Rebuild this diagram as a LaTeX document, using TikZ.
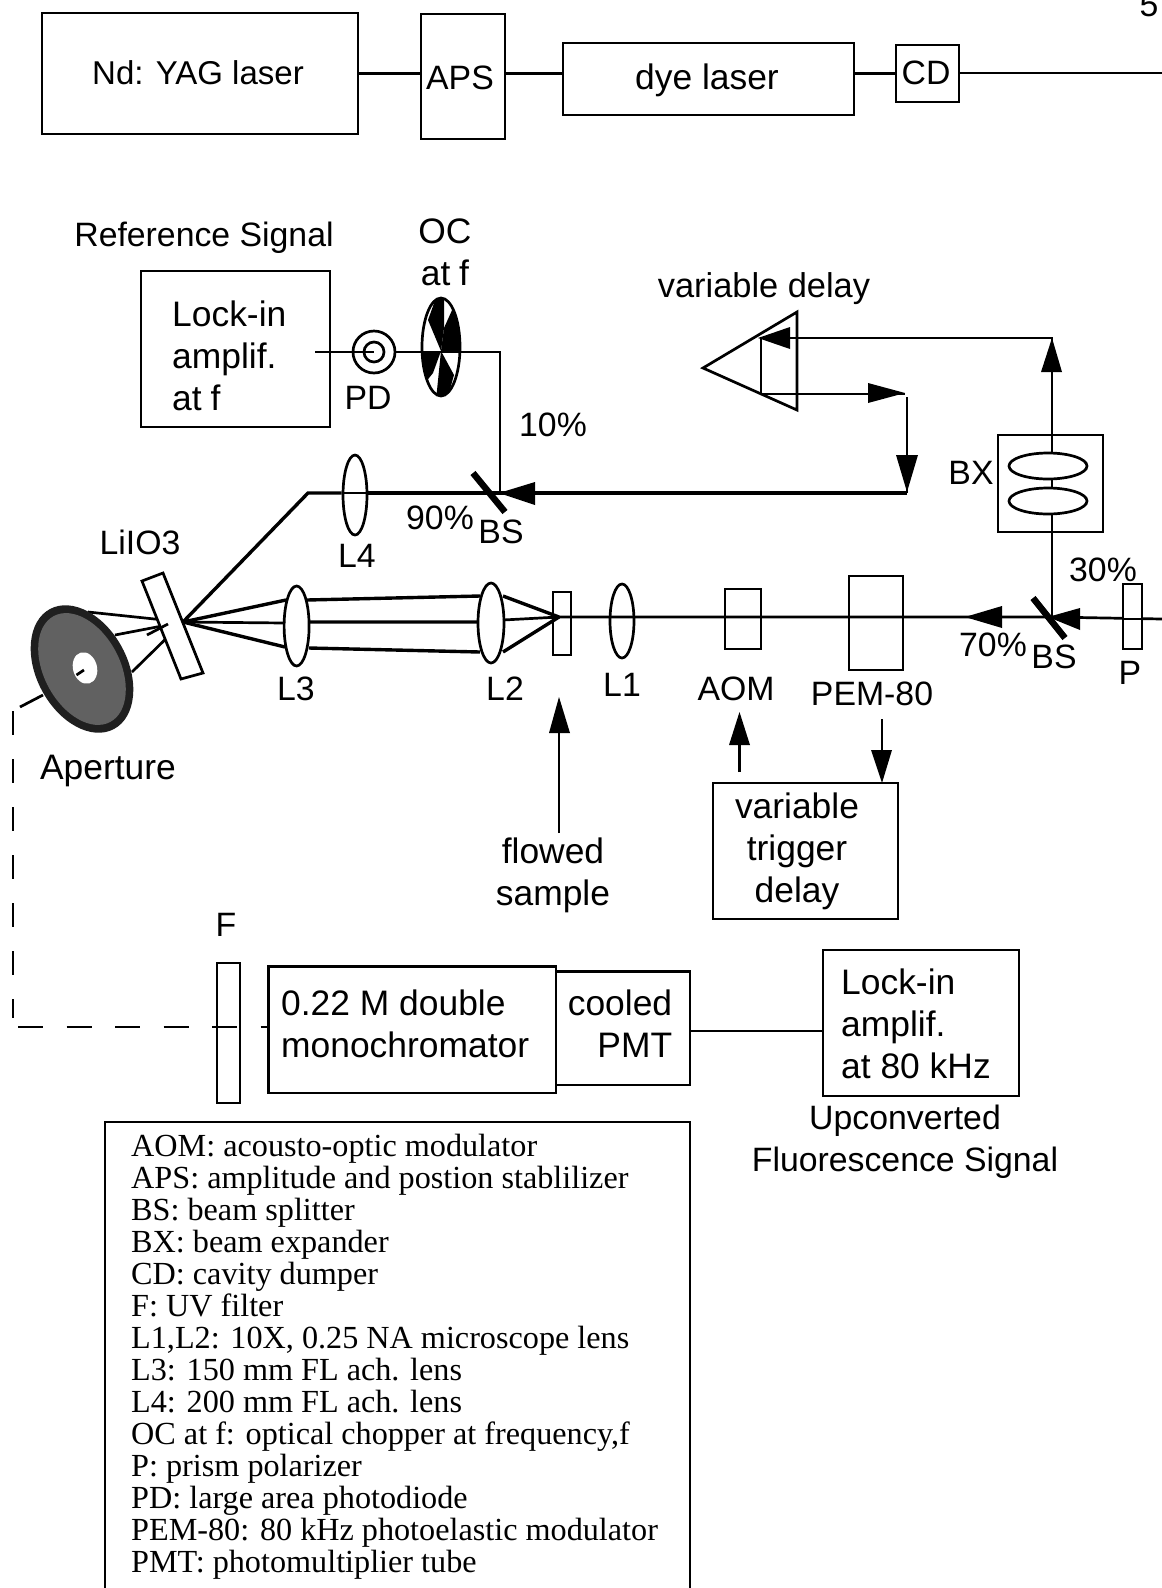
\documentclass[tikz,border=0pt]{standalone}
\usepackage{fontspec}
\setmainfont{Liberation Sans}
\newfontfamily\legfont{Liberation Serif}
\usetikzlibrary{shapes.geometric,arrows.meta,calc}
\newcommand{\mainf}{\fontsize{33.8}{42}\selectfont}
\newcommand{\bigf}{\fontsize{35.4}{42}\selectfont}
\newcommand{\legf}{\legfont\fontsize{32.2}{32}\selectfont}
\tikzset{
 x=1pt,y=-1pt,
 box/.style={draw,line width=2.7pt,inner sep=0pt,font=\mainf},
 txt/.style={inner sep=0pt,font=\mainf,text=black},
 txtb/.style={inner sep=0pt,font=\bigf,text=black},
 ln/.style={line width=2.7pt},
 thick beam/.style={line width=3.4pt},
 lens/.style={draw,ellipse,line width=2.7pt,fill=white,inner sep=0pt},
 legline/.style={anchor=base west,inner sep=0pt,font=\legf},
}
\begin{document}
\begin{tikzpicture}
\useasboundingbox (0,0) rectangle (1162,1588);
\fill[white] (0,0) rectangle (1162,1588);
\node[txt,anchor=base] (pageno) at (1149,16) {5};
% top chain
\node[box,font=\fontsize{33}{42}\selectfont,minimum width=316pt,minimum height=121pt] (yag) at (200,73.5) {};
\node[inner sep=0pt,font=\fontsize{33}{42}\selectfont] (yagt) at (198,73) {Nd: YAG laser};
\node[box,minimum width=84pt,minimum height=125pt] (aps) at (463,76.5) {};
\node[txt] (apst) at (460,78) {APS};
\node[box,minimum width=291pt,minimum height=72pt] (dye) at (708.5,79) {};
\node[txtb] (dyet) at (707,80) {dye laser};
\node[box,minimum width=63pt,minimum height=57pt] (cd) at (927.5,73.5) {};
\node[txt] (cdt) at (926,73) {CD};
\coordinate (topend) at (1162,73);
\draw[ln] (yag.east) -- (aps.west|-yag.east);
\draw[ln] (aps.east|-yag.east) -- (dye.west|-yag.east);
\draw[ln] (dye.east|-cd.west) -- (cd.west);
\draw[ln] (cd.east|-topend) -- (topend);
% reference arm
\node[txt] (refsig) at (204,238) {Reference Signal};
\node[box,minimum width=189pt,minimum height=156pt] (lockA) at (235.5,349) {};
\node[txtb,align=left,anchor=west] (lockAt) at (172,356) {Lock-in\\amplif.\\at\hspace{.25em}f};
\node[txtb,align=center] (octxt) at (445,252) {OC\\at\hspace{.25em}f};
\node[txt] (pdt) at (368,398) {PD};
\node[inner sep=0pt,font=\fontsize{34.4}{42}\selectfont] (vard) at (764,289) {variable delay};
\node[txt] (pct10) at (553,425) {10\%};
\node[txt] (pct90) at (440,518) {90\%};
\node[txt] (bs1t) at (501,532) {BS};
\node[txt] (l4t) at (357,556) {L4};
\node[txt] (liio) at (140,542) {LiIO3};
\coordinate (refa) at (315,352);
\coordinate (refc) at (500,352);
\coordinate (refd) at (500,493);
\coordinate (beamleft) at (308,493);
\coordinate (focus) at (183,622);
\coordinate (beamright) at (907,493);
\coordinate (downtop) at (907,397);
\coordinate (upb) at (1052,617);
\coordinate (upt) at (1052,338);
\coordinate (pr1) at (761,338);
\coordinate (pr2) at (761,394);
\coordinate (pr3) at (905,394);
\node[lens,minimum width=24pt,minimum height=80pt] (l4) at (355,495) {};
\draw[ln] (refa) -- (refc) -- (refd);
\node[draw,circle,line width=2.7pt,fill=white,minimum size=42pt,inner sep=0pt] (pd) at (374,352) {};
\node[draw,circle,line width=2.7pt,minimum size=20pt,inner sep=0pt] (pdi) at (374,352) {};
\coordinate (pdc) at (374,352);
\draw[ln] (refa) -- (pdc);
% chopper
\node[draw,ellipse,line width=2.7pt,fill=white,minimum width=38pt,minimum height=98pt,inner sep=0pt] (oc) at (441,347) {};
\begin{scope}
\clip (441,347) ellipse [x radius=19,y radius=49];
\fill (441,351) -- (428,320) -- (437,295) -- (444,295) -- (444,328) -- cycle;
\fill (444,328) -- (453,308) -- (468,333) -- (468,351) -- (441,351) -- cycle;
\fill (441,351) -- (418,351) -- (425,383) -- (433,373) -- cycle;
\fill (441,351) -- (454,375) -- (447,400) -- (436,400) -- cycle;
\end{scope}
\draw[ln] (oc.west|-refc) -- (refc);
% main 90% line
\draw[thick beam] (focus) -- (beamleft) -- (l4.west|-beamleft);
\draw[thick beam] (l4.east|-beamleft) -- (beamright);
\draw[ln] (l4.west|-beamleft) -- (l4.east|-beamleft);
\draw[line width=6.5pt] (473,473) -- (505,512);
\fill (499,493) -- (535,482) -- (535,505) -- cycle;
% variable delay
\draw[ln,line join=miter] (703,368) -- (797,312) -- (797,410) -- cycle;
\draw[ln] (upb) -- (upt) -- (pr1) -- (pr2) -- (pr3);
\fill (758,338) -- (790,327) -- (790,349) -- cycle;
\fill (905,393) -- (868,383) -- (868,403) -- cycle;
\fill (1052,338) -- (1041,372) -- (1062,372) -- cycle;
\draw[ln] (downtop) -- (beamright);
\fill (907,492) -- (896,455) -- (918,455) -- cycle;
% BX
\node[box,fill=white,minimum width=105pt,minimum height=97pt] (bx) at (1050.5,483.5) {};
\node[lens,minimum width=78pt,minimum height=26pt] (bxa) at (1048,466) {};
\node[lens,minimum width=78pt,minimum height=26pt] (bxb) at (1048,501) {};
\node[txt] (bxt) at (971,473) {BX};
\draw[ln] (upt|-bx.north) -- (upt|-bxa.north);
\draw[ln] (upt|-bxa.south) -- (upt|-bxb.north);
\draw[ln] (upt|-bxb.south) -- (upt|-bx.south);
\node[txt] (pct30) at (1103,570) {30\%};
\node[txt] (pct70) at (993,645) {70\%};
\node[txt] (bs2t) at (1054,657) {BS};
\node[txt] (pt) at (1130,673) {P};
% main axis
\coordinate (axisr) at (1162,619);
\coordinate (axisbs) at (1050,617);
\coordinate (axisl) at (559,617);
\draw[ln] (axisr) -- (axisbs) -- (axisl);
\node[box,fill=none,minimum width=36pt,minimum height=60pt] (aom) at (743,619) {};
\node[box,fill=none,minimum width=54pt,minimum height=94pt] (pem) at (876,623) {};
\node[box,fill=white,minimum width=19pt,minimum height=65pt] (pol) at (1132.5,616.5) {};
\draw[ln] (pol.west|-axisr) -- (pol.east|-axisr);
\node[lens,fill=none,minimum width=24pt,minimum height=74pt] (l1) at (622,621) {};
\node[box,fill=none,minimum width=18pt,minimum height=63pt] (samp) at (562,623.5) {};
\draw[line width=6.5pt] (1033,598) -- (1065,638);
\fill (965,617) -- (1002,606) -- (1002,628) -- cycle;
\fill (1048,617) -- (1080,608) -- (1080,630) -- cycle;
% LiIO3 side
\coordinate (a1) at (286,600);\coordinate (a2) at (285,623);\coordinate (a3) at (285,647);
\coordinate (b1) at (307,600);\coordinate (b2) at (308,622);\coordinate (b3) at (309,648);
\coordinate (c1) at (480,596);\coordinate (c2) at (478,622);\coordinate (c3) at (480,652);
\coordinate (d1) at (503,596);\coordinate (d2) at (503,620);\coordinate (d3) at (503,652);
\draw[thick beam] (focus) -- (a1) (focus) -- (a3) (b1) -- (c1) (b2) -- (c2) (b3) -- (c3) (d1) -- (axisl) (d3) -- (axisl);
\draw[ln] (focus) -- (a2) (d2) -- (axisl);
\node[lens,fill=none,minimum width=25pt,minimum height=80pt] (l3) at (296.6,626) {};
\node[lens,fill=none,minimum width=26pt,minimum height=80pt] (l2) at (491,623) {};
\node[txt] (l3t) at (296,689) {L3};
\node[txt] (l2t) at (505,689) {L2};
\node[txt] (l1t) at (622,685) {L1};
\node[txt] (aomt) at (736,689) {AOM};
\node[txt] (pemt) at (872,694) {PEM-80};
% aperture
\coordinate (ap) at (82,669);
\draw[ln] (88,612) -- (focus);
\draw[ln] (115,635) -- (focus);
\draw[ln] (132,672) -- (focus);
\fill[black!88,rotate around={28:(ap)}] (ap) ellipse [x radius=45.5,y radius=68];
\fill[black!62,rotate around={28:(ap)}] (ap) ellipse [x radius=38,y radius=60];
\fill[white,rotate around={15:(85,668)}] (85,668) ellipse [x radius=12,y radius=16];
\draw[ln] (76.5,675) -- (84,670);
\draw[ln,fill=white] (142,581) -- (163,573) -- (203,673) -- (181,679) -- cycle;
\draw[ln] (147,635) -- (168,624);
\node[txtb] (apt) at (108,771) {Aperture};
% dashed
\coordinate (dash0) at (13,711);
\coordinate (dash1) at (13,1018);
\coordinate (dash2) at (18,1027);
\coordinate (dash3) at (268,1027);
\draw[ln] (43,695) -- (20,707);
\draw[ln,dash pattern=on 24pt off 24pt] (dash0) -- (dash1);
\draw[ln,dash pattern=on 25pt off 23.5pt] (dash2) -- (dash3);
% flowed sample etc
\coordinate (fl) at (559,833);
\draw[ln] (fl) -- (559,725);
\fill (559,697) -- (549,733) -- (570,733) -- cycle;
\node[txtb,align=center] (flt) at (553,875) {flowed\\sample};
\node[box,minimum width=185pt,minimum height=136pt] (trig) at (805.5,851) {};
\node[txtb,align=center] (trigt) at (797,851) {variable\\trigger\\delay};
\coordinate (aomb) at (739.5,712);
\coordinate (trigt1) at (739.5,772);
\draw[ln] (trigt1) -- (739.5,740);
\fill (aomb) -- (729,745) -- (750,745) -- cycle;
\coordinate (pemb) at (882,719);
\draw[ln] (pemb) -- (882,750);
\fill (882,783) -- (871,750) -- (892,750) -- cycle;
% bottom row
\node[txt] (ft) at (226,925) {F};
\node[box,fill=none,minimum width=23pt,minimum height=140pt] (filter) at (228.5,1033) {};
\node[box,minimum width=287.5pt,minimum height=126.5pt] (mono) at (412.25,1029.75) {};
\node[txtb,align=left,anchor=west] (monot) at (281,1024) {0.22 M double\\monochromator};
\node[box,minimum width=134pt,minimum height=113.5pt] (pmt) at (623,1028.25) {};
\node[txtb,align=right] (pmtt) at (620,1024) {cooled\\PMT};
\node[box,minimum width=196pt,minimum height=146pt] (lockB) at (921,1023) {};
\node[txtb,align=left,anchor=west] (lockBt) at (841,1024) {Lock-in\\amplif.\\at 80 kHz};
\coordinate (pmtout) at (690,1031);
\draw[ln] (pmtout) -- (lockB.west|-pmtout);
\node[txt,align=center] (upc) at (905,1142) {Upconverted\\Fluorescence Signal};
% legend
\draw[ln] (105,1588) -- (105,1122) -- (690,1122) -- (690,1588);
\foreach \t [count=\i from 0] in {AOM: acousto-optic modulator,APS: amplitude and postion stablilizer,BS: beam splitter,BX: beam expander,CD: cavity dumper,F: UV filter,{L1,L2: 10X, 0.25 NA microscope lens},L3: 150 mm FL ach. lens,L4: 200 mm FL ach. lens,{OC at f: optical chopper at frequency,f},P: prism polarizer,PD: large area photodiode,PEM-80: 80 kHz photoelastic modulator,PMT: photomultiplier tube}
  \node[legline] (leg\i) at (131,{1156+32*\i}) {\t};
\end{tikzpicture}
\end{document}
